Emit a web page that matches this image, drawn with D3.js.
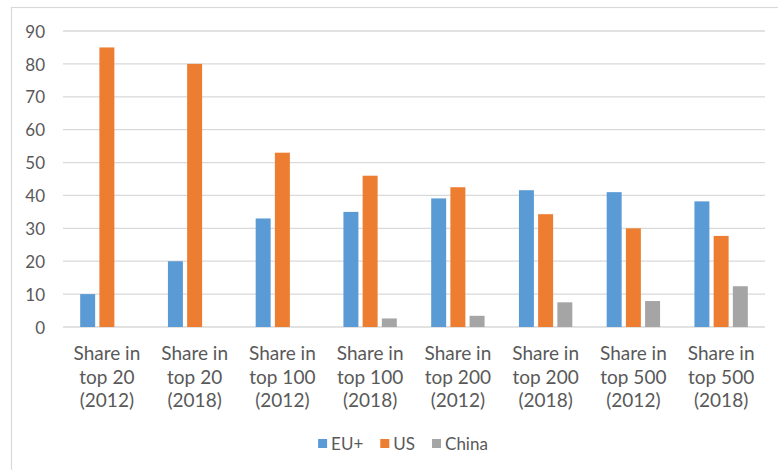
<!DOCTYPE html>
<html>
<head>
<meta charset="utf-8">
<script src="https://cdn.jsdelivr.net/npm/d3@7"></script>
<style>
  html, body { margin: 0; padding: 0; background: #fff; }
  svg { display: block; }
  text { font-family: Lato, "Open Sans", sans-serif; fill: #595959; }
</style>
</head>
<body>
<svg id="chart" width="778" height="470"></svg>
<script>
const categories = [
  ["Share in", "top 20", "(2012)"],
  ["Share in", "top 20", "(2018)"],
  ["Share in", "top 100", "(2012)"],
  ["Share in", "top 100", "(2018)"],
  ["Share in", "top 200", "(2012)"],
  ["Share in", "top 200", "(2018)"],
  ["Share in", "top 500", "(2012)"],
  ["Share in", "top 500", "(2018)"]
];
const seriesNames = ["EU+", "US", "China"];
const euValues    = [10, 20, 33, 35, 39.1, 41.6, 41, 38.2];
const usValues    = [85, 80, 53, 46, 42.5, 34.3, 30, 27.7];
const chinaValues = [0, 0, 0, 2.6, 3.4, 7.5, 7.9, 12.4];
const colors = ["#5b9bd5", "#ed7d31", "#a5a5a5"];
const yTicks = [0, 10, 20, 30, 40, 50, 60, 70, 80, 90];

const seriesValues = [euValues, usValues, chinaValues];
const catKeys = categories.map((c, i) => i);

const svg = d3.select("#chart");

// frame
svg.append("rect")
  .attr("x", 11.5).attr("y", 7.5)
  .attr("width", 820).attr("height", 520)
  .attr("fill", "none").attr("stroke", "#d9d9d9").attr("stroke-width", 1.2);

const x0 = d3.scaleBand().domain(catKeys).range([63, 765]).paddingInner(0).paddingOuter(0);
const groupW = 53.4;
const x1 = d3.scaleBand().domain(seriesNames).range([0, groupW]).paddingInner(0.22).paddingOuter(0);
const y = d3.scaleLinear().domain([0, 90]).range([327, 31]);

// gridlines
svg.append("g")
  .selectAll("line").data(yTicks).join("line")
  .attr("x1", 63).attr("x2", 765)
  .attr("y1", d => y(d)).attr("y2", d => y(d))
  .attr("stroke", "#d9d9d9").attr("stroke-width", 1.3);

// y axis labels
const yAxis = d3.axisLeft(y).tickValues(yTicks).tickSize(0).tickPadding(0);
const yg = svg.append("g").attr("transform", "translate(45,0)").call(yAxis);
yg.select(".domain").remove();
yg.selectAll("text")
  .attr("font-size", 17)
  .attr("fill", "#595959")
  .attr("dy", "0.36em")
  .style("font-family", "Lato, sans-serif");

// bars
const groups = svg.append("g").selectAll("g").data(catKeys).join("g")
  .attr("transform", d => `translate(${x0(d) + (x0.bandwidth() - groupW) / 2},0)`);
groups.selectAll("rect")
  .data(ci => seriesNames.map((s, si) => ({ s, si, v: seriesValues[si][ci] })))
  .join("rect")
  .attr("x", d => x1(d.s))
  .attr("width", x1.bandwidth())
  .attr("y", d => y(d.v))
  .attr("height", d => y(0) - y(d.v))
  .attr("fill", d => colors[d.si]);

// x labels
const xl = svg.append("g");
catKeys.forEach(ci => {
  const cx = x0(ci) + x0.bandwidth() / 2;
  const t = xl.append("text")
    .attr("text-anchor", "middle")
    .attr("font-size", 19);
  categories[ci].forEach((line, li) => {
    t.append("tspan").attr("x", cx).attr("y", 360 + li * 23.5).text(line);
  });
});

// legend
const leg = svg.append("g");
let lx = 0;
seriesNames.forEach((name, i) => {
  const g = leg.append("g");
  g.append("rect").attr("x", lx).attr("y", 439).attr("width", 9).attr("height", 9).attr("fill", colors[i]);
  const t = g.append("text").attr("x", lx + 13).attr("y", 449.5).attr("font-size", 17).text(name);
  const w = t.node().getComputedTextLength();
  lx += 13 + w + 17;
});
const total = lx - 17;
leg.attr("transform", `translate(${403 - total / 2},0)`);
</script>
</body>
</html>
